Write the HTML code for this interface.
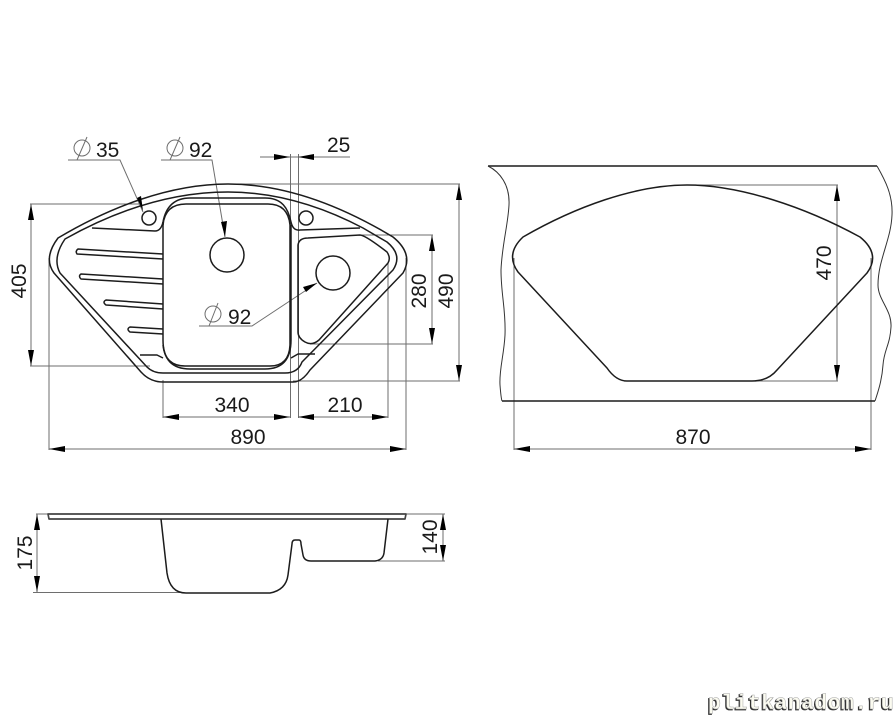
<!DOCTYPE html>
<html><head><meta charset="utf-8">
<style>
html,body{margin:0;padding:0;background:#fff}
svg{display:block}
text{font-family:"Liberation Sans",sans-serif;font-size:21px;fill:#1a1a1a}
.d{stroke:#6e6e6e;stroke-width:1;fill:none}
.m{stroke:#1c1c1c;stroke-width:1.5;fill:none;stroke-linejoin:round}
.a{fill:#000;stroke:none}
text.wm{font-family:"Liberation Mono",monospace;font-weight:bold;font-size:21.5px;fill:#fbfbf0;stroke:#aaa;stroke-width:.5;letter-spacing:.4px}
text.ws{font-family:"Liberation Mono",monospace;font-weight:bold;font-size:21.5px;fill:#333;stroke:#333;stroke-width:.8;letter-spacing:.4px}
</style></head>
<body>
<svg width="896" height="716" viewBox="0 0 896 716" xmlns="http://www.w3.org/2000/svg">
<!-- extension and dimension lines -->
<g class="d">
<path d="M30 204H140M31 204V366M30 366H150"/>
<path d="M228 184H460M459 184V381M293 381H460"/>
<path d="M360 235H433M432 235V344M310 344H433"/>
<path d="M260 157H350M290.5 154V418M298.5 154V418"/>
<path d="M49 258V450M406 258V450M49 449H406"/>
<path d="M163 380V418M388 263V418M163 417H290M298 417H388"/>
<path d="M68 160H120L143 212"/>
<path d="M161 160H212L225 237"/>
<path d="M199 326H252L317 283"/>
<path d="M87 137L77 160M180 137L170 160M218 303L209 326"/>
<circle cx="82" cy="148" r="8"/><circle cx="175" cy="148" r="8"/><circle cx="213" cy="314" r="8"/>
<path d="M687 185H838M837 185V381M757 381H838"/>
<path d="M514 258V450M871 258V450M514 449H871"/>
<path d="M36 514H48M37 514V592M33 592.5H183"/>
<path d="M406 514H445M443 514V561M378 561H445"/>
</g>
<!-- top view sink -->
<g class="m">
<path d="M163 382Q150 382 141 372L54 273Q43 258 58 238C110 207 170 184 228 184C285 184 340 205 393 237Q414 254 403 273L310 370Q302 382 293 382Z"/>
<path d="M163 373Q153 373 147 367L60 273Q52 258 65 239C115 211 170 192 228 192C280 192 325 208 363 228L387 242Q403 255 393 270L302 362Q298 373 285 373Z"/>
<path d="M92 228L155 231Q161 231 163 222C166 206 175 198 190 198H265C282 198 288 208 291 222Q293 231 300 230L360 228"/>
<path d="M163 222V340Q163 369 190 369H265Q291 369 291 340V225"/>
<path d="M163 345Q165 366 185 366H270Q289 366 290 345V225Q288 204 268 204H186Q165 204 163 225"/>
<path d="M140 355H157L163 358M315 354H298L291 358"/>
<path d="M298 245Q299 238 308 238L360 235Q365 235 387 252Q391 258 388 263L319 340Q312 346 305 342Q298 338 298 332Z"/>
<circle cx="149" cy="218" r="7"/><circle cx="306" cy="218" r="7"/>
<circle cx="227" cy="255" r="17"/><circle cx="333" cy="273" r="17"/>
<path d="M163 254L78 249Q75 251 77 254L163 259"/>
<path d="M163 279L81 274Q78 276 81 279L163 284"/>
<path d="M163 304L106 300Q102 302 106 305L163 309"/>
<path d="M163 329L130 327Q126 329 130 332L163 334"/>
</g>
<!-- arrowheads -->
<g class="a">
<path d="M31 204L28 220H34Z M31 366L28 350H34Z"/>
<path d="M459 184L456 200H462Z M459 381L456 365H462Z"/>
<path d="M432 235L429 251H435Z M432 344L429 328H435Z"/>
<path d="M290 157L274 154V160Z M298 157L314 154V160Z"/>
<path d="M163 417L179 414V420Z M290 417L274 414V420Z M298 417L314 414V420Z M388 417L372 414V420Z"/>
<path d="M49 449L65 446V452Z M406 449L390 446V452Z"/>
<path d="M143 211L137 198L141 196Z M225 237L221 222L227 221Z M317 283L303 287L306 292Z"/>
<path d="M837 185L834 201H840Z M837 381L834 365H840Z"/>
<path d="M514 449L530 446V452Z M871 449L855 446V452Z"/>
<path d="M37 514L34 530H40Z M37 592L34 576H40Z"/>
<path d="M443 514L440 530H446Z M443 561L440 545H446Z"/>
</g>
<!-- right plan -->
<g>
<path d="M488 166H877M502 401H875" stroke="#1c1c1c" stroke-width="1.5" fill="none"/>
<path d="M488 166C500 172 510 185 509 205C508 225 502 245 501 270C501 295 506 310 505 335C504 355 499 370 500 385Q501 398 502 401" stroke="#333" stroke-width="1" fill="none"/>
<path d="M877 166C885 180 893 195 892 215C891 240 878 260 878 285C878 300 892 310 891 327C890 345 884 350 883 365C882 380 878 392 875 401" stroke="#333" stroke-width="1" fill="none"/>
<path class="m" d="M523 237C575 207 635 185 687 185C740 185 805 207 860 237Q881 254 867 273L777 370Q768 381 752 381H627Q616 381 607 368L518 272Q505 254 523 237Z"/>
</g>
<!-- side view -->
<g class="m">
<path d="M48 514H406L405 519H49Z" stroke-width="1.7" stroke="#444"/>
<path d="M161 519L167 573Q170 593 186 593H270Q286 590 288 575L292 544Q292 540 295 540H299Q301 540 301 544L303 555Q304 561 311 561H375Q383 560 384 553L388 519"/>
</g>
<!-- labels -->
<text x="96" y="157">35</text>
<text x="189" y="157">92</text>
<text x="228" y="324">92</text>
<text x="327" y="152">25</text>
<text x="232" y="412" text-anchor="middle">340</text>
<text x="345" y="412" text-anchor="middle">210</text>
<text x="248" y="444" text-anchor="middle">890</text>
<text x="693" y="444" text-anchor="middle">870</text>
<text transform="translate(26 281) rotate(-90)" text-anchor="middle">405</text>
<text transform="translate(426 291) rotate(-90)" text-anchor="middle">280</text>
<text transform="translate(453 291) rotate(-90)" text-anchor="middle">490</text>
<text transform="translate(831 263) rotate(-90)" text-anchor="middle">470</text>
<text transform="translate(32 553) rotate(-90)" text-anchor="middle">175</text>
<text transform="translate(437 537) rotate(-90)" text-anchor="middle">140</text>
<!-- watermark -->
<text class="ws" x="707" y="710">plitkanadom.ru</text>
<text class="wm" x="708" y="709">plitkanadom.ru</text>
</svg>
</body></html>
